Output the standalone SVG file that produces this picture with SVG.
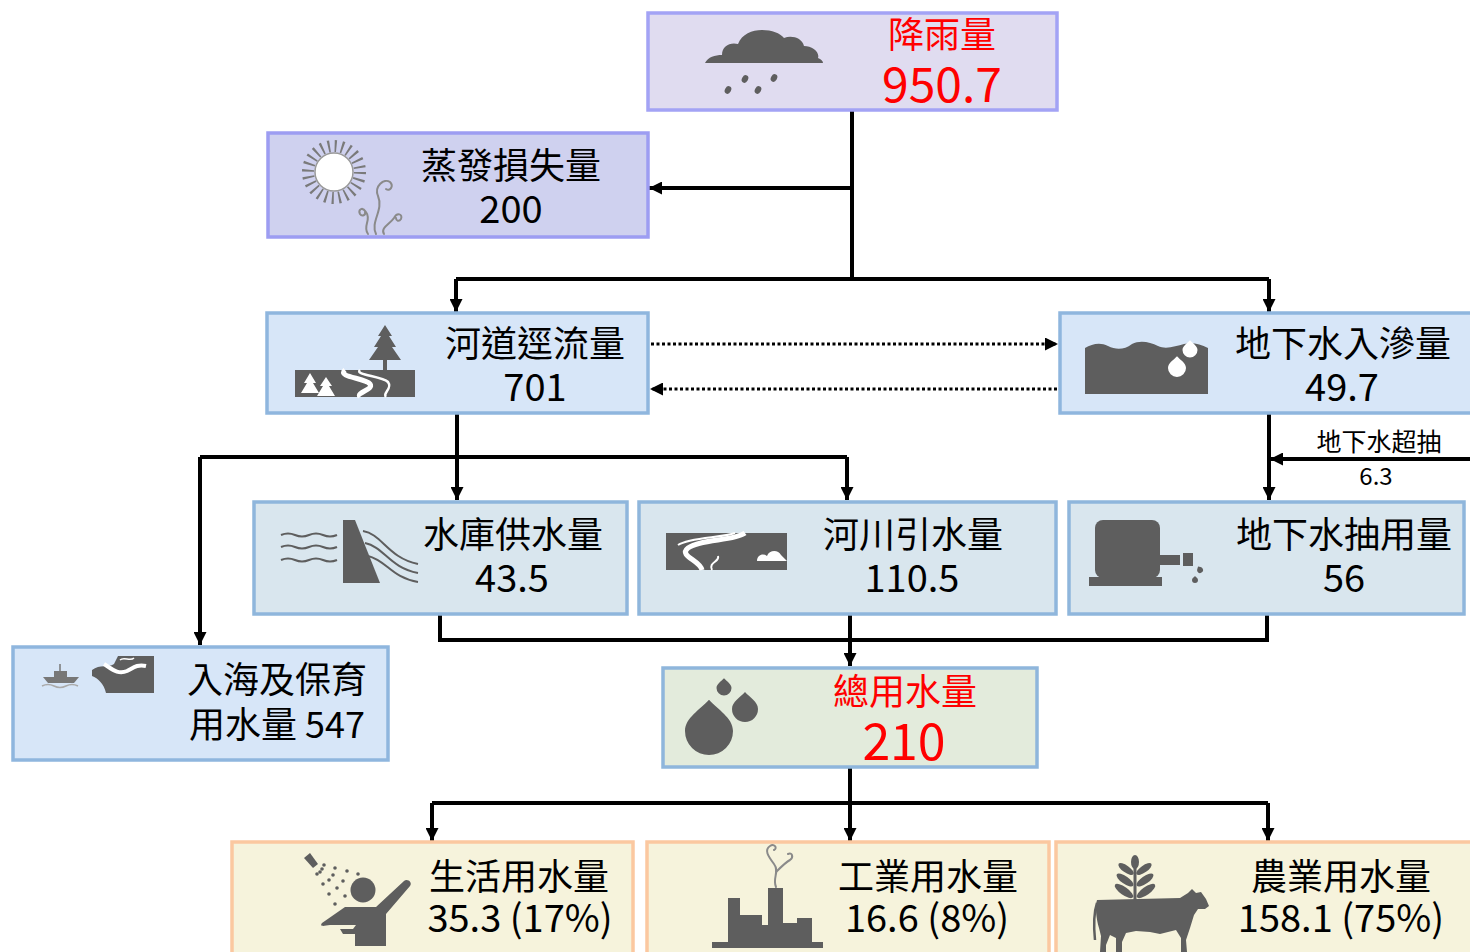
<svg xmlns="http://www.w3.org/2000/svg" xmlns:xlink="http://www.w3.org/1999/xlink" width="1470" height="952" viewBox="0 0 1470 952">
  <style>
    .box { stroke-width: 3.5; }
    .rain { fill: #e0dcf0; stroke: #a3a3f5; }
    .evap { fill: #cfd1ef; stroke: #9d9df2; }
    .flow { fill: #d7e6f8; stroke: #8fb6de; }
    .supply { fill: #d9e6ee; stroke: #8fb6dc; }
    .total { fill: #e3ebdc; stroke: #8fb6dc; }
    .use { fill: #f6f3dc; stroke: #fbc8a0; }
    .t { font-family: "Noto Sans CJK TC", "Noto Sans", sans-serif; text-anchor: middle; fill: #000; }
    .lbl { font-size: 36px; }
    .num { font-size: 38px; }
    .red { fill: #ff0000; }
    .icon { fill: #5e5e5e; }
    .wire { fill: none; stroke: #000; stroke-width: 4; }
    .dots { fill: none; stroke: #000; stroke-width: 3; stroke-dasharray: 3 2.5; }
    .curl { fill: none; stroke: #8a8a8a; stroke-width: 2; stroke-linecap: round; }
  </style>
  <defs>
    <marker id="arrow" viewBox="0 0 10 10" refX="10" refY="5" markerWidth="13" markerHeight="13" markerUnits="userSpaceOnUse" orient="auto">
      <path d="M0,0 L10,5 L0,10 Z" fill="#000"/>
    </marker>
    <path id="drop" d="M0,-1.3 C0.35,-0.9 1,-0.55 1,0 A1,1 0 0 1 -1,0 C-1,-0.55 -0.35,-0.9 0,-1.3 Z"/>
  </defs>

  <rect width="1470" height="952" fill="#fff"/>

  <!-- connectors -->
  <g id="connectors">
    <path class="wire" d="M852,111 V279"/>
    <path class="wire" d="M852,188 H649" marker-end="url(#arrow)"/>
    <path class="wire" d="M456,279 H1269"/>
    <path class="wire" d="M456,279 V312" marker-end="url(#arrow)"/>
    <path class="wire" d="M1269,279 V312" marker-end="url(#arrow)"/>
    <path class="dots" d="M651,344 H1058" marker-end="url(#arrow)"/>
    <path class="dots" d="M1057,389 H650" marker-end="url(#arrow)"/>
    <path class="wire" d="M457,413 V500" marker-end="url(#arrow)"/>
    <path class="wire" d="M200,457 H847"/>
    <path class="wire" d="M200,457 V645" marker-end="url(#arrow)"/>
    <path class="wire" d="M847,457 V500" marker-end="url(#arrow)"/>
    <path class="wire" d="M1269,413 V500" marker-end="url(#arrow)"/>
    <path class="wire" d="M1470,459 H1270" marker-end="url(#arrow)"/>
    <path class="wire" d="M440,615 V640 H1267 V615"/>
    <path class="wire" d="M850,615 V666" marker-end="url(#arrow)"/>
    <path class="wire" d="M850,767 V841" marker-end="url(#arrow)"/>
    <path class="wire" d="M432,803 H1268"/>
    <path class="wire" d="M432,803 V841" marker-end="url(#arrow)"/>
    <path class="wire" d="M1268,803 V841" marker-end="url(#arrow)"/>
    <text class="t" x="1379" y="451" font-size="25">地下水超抽</text>
    <text class="t" x="1376" y="485" font-size="24">6.3</text>
  </g>

  <!-- rainfall -->
  <g id="rainfall">
    <rect class="box rain" x="648" y="13" width="409" height="97"/>
    <path class="icon" d="M705,63 C708,57 715,55 722,55 C722,46 730,42 738,44 C742,34 752,30 762,30 C772,30 780,33 784,38 C792,35 802,38 804,46 C812,46 820,52 818,58 C821,59 823,61 823,63 Z"/>
    <g class="icon">
      <ellipse cx="728" cy="90" rx="3" ry="4" transform="rotate(30 728 90)"/>
      <ellipse cx="745" cy="79" rx="3" ry="4" transform="rotate(30 745 79)"/>
      <ellipse cx="758" cy="90" rx="3" ry="4" transform="rotate(30 758 90)"/>
      <ellipse cx="774" cy="78" rx="3" ry="4" transform="rotate(30 774 78)"/>
    </g>
    <text class="t lbl red" x="942" y="48">降雨量</text>
    <text class="t red" x="942" y="102" font-size="48">950.7</text>
  </g>

  <!-- evaporation -->
  <g id="evaporation">
    <rect class="box evap" x="268" y="133" width="380" height="104"/>
    <circle cx="334" cy="172" r="26" fill="none" stroke="#7a7a7a" stroke-width="12" stroke-dasharray="2 4.8"/>
    <circle cx="334" cy="172" r="19" fill="#fff" stroke="#9a9a9a" stroke-width="1.5"/>
    <path class="curl" d="M368,234 C362,226 372,220 366,212 C362,206 358,210 360,214 C362,217 366,215 365,212"/>
    <path class="curl" d="M376,234 C370,222 384,210 378,196 C374,186 384,178 390,182 C394,186 390,192 386,189"/>
    <path class="curl" d="M384,234 C380,228 390,224 394,218 C397,212 403,214 401,219 C399,222 396,221 396,218"/>
    <text class="t lbl" x="511" y="179">蒸發損失量</text>
    <text class="t num" x="511" y="223">200</text>
  </g>

  <!-- river runoff -->
  <g id="runoff">
    <rect class="box flow" x="267" y="313" width="381" height="100"/>
    <rect class="icon" x="295" y="370" width="120" height="27"/>
    <polygon class="icon" points="385,325 378,336 381,336 374,347 378,347 369,360 401,360 392,347 396,347 389,336 392,336"/>
    <rect class="icon" x="383" y="358" width="4" height="12"/>
    <path d="M345,370 C336,377 366,378 370,384 C374,390 356,392 360,397" fill="none" stroke="#fff" stroke-width="5"/>
    <path d="M360,370 C354,375 382,376 388,382 C393,389 382,393 386,397" fill="none" stroke="#fff" stroke-width="2.5"/>
    <polygon fill="#fff" points="310,373 304,383 307,383 301,393 319,393 313,383 316,383"/>
    <polygon fill="#fff" points="326,377 320,386 323,386 317,396 335,396 329,386 332,386"/>
    <text class="t lbl" x="535" y="357">河道逕流量</text>
    <text class="t num" x="535" y="401">701</text>
  </g>

  <!-- groundwater recharge -->
  <g id="recharge">
    <rect class="box flow" x="1060" y="313" width="414" height="100"/>
    <path class="icon" d="M1085,394 V348 C1092,344 1100,342 1108,346 C1116,350 1124,350 1132,344 C1140,340 1150,342 1158,346 C1166,350 1176,346 1184,344 C1192,342 1200,344 1208,348 V394 Z"/>
    <use href="#drop" xlink:href="#drop" fill="#fff" transform="translate(1190,350) scale(7.5)"/>
    <use href="#drop" xlink:href="#drop" fill="#fff" transform="translate(1177,368) scale(9)"/>
    <text class="t lbl" x="1343" y="357">地下水入滲量</text>
    <text class="t num" x="1342" y="401">49.7</text>
  </g>

  <!-- reservoir supply -->
  <g id="reservoir">
    <rect class="box supply" x="254" y="502" width="373" height="112"/>
    <g fill="none" stroke="#5e5e5e" stroke-width="2">
      <path d="M281,535 q7,-3 14,0 t14,0 t14,0 t14,0"/>
      <path d="M281,547 q7,-3 14,0 t14,0 t14,0 t14,0"/>
      <path d="M281,560 q7,-3 14,0 t14,0 t14,0 t14,0"/>
      <path d="M363,531 C382,534 388,558 418,564"/>
      <path d="M365,543 C384,547 390,568 418,573"/>
      <path d="M368,556 C386,560 392,578 418,582"/>
    </g>
    <polygon class="icon" points="343,520 355,520 380,583 343,583"/>
    <text class="t lbl" x="513" y="548">水庫供水量</text>
    <text class="t num" x="512" y="592">43.5</text>
  </g>

  <!-- river diversion -->
  <g id="diversion">
    <rect class="box supply" x="639" y="502" width="417" height="112"/>
    <rect class="icon" x="666" y="533" width="121" height="37"/>
    <path d="M745,533 C734,541 700,539 688,548 C678,556 700,560 702,570" fill="none" stroke="#fff" stroke-width="5"/>
    <path d="M735,533 C722,538 690,537 678,545" fill="none" stroke="#fff" stroke-width="2"/>
    <path d="M712,570 C708,562 720,562 718,556" fill="none" stroke="#fff" stroke-width="2"/>
    <path fill="#fff" d="M757,561 C757,555 763,553 767,556 C769,550 778,549 781,555 L787,561 Z"/>
    <text class="t lbl" x="913" y="548">河川引水量</text>
    <text class="t num" x="912" y="592">110.5</text>
  </g>

  <!-- groundwater pumping -->
  <g id="pumping">
    <rect class="box supply" x="1069" y="502" width="395" height="112"/>
    <rect class="icon" x="1095" y="520" width="65" height="58" rx="8"/>
    <rect class="icon" x="1089" y="577" width="73" height="9"/>
    <rect class="icon" x="1158" y="555" width="22" height="10"/>
    <rect class="icon" x="1183" y="553" width="10" height="13"/>
    <use href="#drop" xlink:href="#drop" class="icon" transform="translate(1200,570) rotate(-30) scale(3)"/>
    <use href="#drop" xlink:href="#drop" class="icon" transform="translate(1195,580) scale(3)"/>
    <text class="t lbl" x="1344" y="548">地下水抽用量</text>
    <text class="t num" x="1344" y="592">56</text>
  </g>

  <!-- outflow to sea and conservation -->
  <g id="outflow">
    <rect class="box flow" x="13" y="647" width="375" height="113"/>
    <path class="icon" d="M92,670 C100,664 108,668 114,664 L118,656 H154 V693 H106 C104,684 98,678 92,676 Z"/>
    <path d="M104,664 C112,669 118,675 127,671 C133,668 137,664 146,666" fill="none" stroke="#fff" stroke-width="4"/>
    <path d="M120,660 C124,656 130,662 134,658" fill="none" stroke="#fff" stroke-width="1.5"/>
    <path fill="#777" d="M43,677 H79 L74,683 H48 Z"/>
    <rect fill="#777" x="54" y="671" width="13" height="6"/>
    <path d="M60,671 V664" stroke="#777" stroke-width="1.5"/>
    <path d="M42,686 q6,-3 12,0 t12,0 t12,0" fill="none" stroke="#aaa" stroke-width="1.5"/>
    <text class="t lbl" x="277" y="693">入海及保育</text>
    <text class="t lbl" x="277" y="738">用水量 547</text>
  </g>

  <!-- total water use -->
  <g id="total">
    <rect class="box total" x="663" y="668" width="374" height="99"/>
    <use href="#drop" xlink:href="#drop" class="icon" transform="translate(709,731) scale(24)"/>
    <use href="#drop" xlink:href="#drop" class="icon" transform="translate(745,709) scale(13)"/>
    <use href="#drop" xlink:href="#drop" class="icon" transform="translate(724,688) scale(7.5)"/>
    <text class="t lbl red" x="905" y="705">總用水量</text>
    <text class="t red" x="904" y="760" font-size="50">210</text>
  </g>

  <!-- domestic use -->
  <g id="domestic">
    <rect class="box use" x="232" y="842" width="401" height="114"/>
    <polygon class="icon" points="304,858 310,853 318,864 313,868"/>
    <g class="icon">
      <circle cx="324" cy="865" r="1.8"/><circle cx="335" cy="868" r="1.8"/><circle cx="347" cy="871" r="1.8"/><circle cx="358" cy="874" r="1.8"/>
      <circle cx="322" cy="869" r="1.8"/><circle cx="333" cy="875" r="1.8"/><circle cx="343" cy="881" r="1.8"/>
      <circle cx="320" cy="872" r="1.8"/><circle cx="329" cy="880" r="1.8"/><circle cx="337" cy="888" r="1.8"/><circle cx="345" cy="896" r="1.8"/>
      <circle cx="317" cy="874" r="1.8"/><circle cx="323" cy="884" r="1.8"/><circle cx="329" cy="894" r="1.8"/><circle cx="335" cy="904" r="1.8"/>
      <circle cx="363" cy="890" r="12.5"/>
    </g>
    <path class="icon" d="M322,923 L345,907 H376 L404,881 C407,878 413,882 410,886 L386,914 V946 H355 V934 H343 L340,929 H353 L356,925 H330 C324,926 319,927 322,923 Z"/>
    <text class="t lbl" x="519" y="890">生活用水量</text>
    <text class="t num" x="520" y="932">35.3 (17%)</text>
  </g>

  <!-- industrial use -->
  <g id="industrial">
    <rect class="box use" x="647" y="842" width="402" height="114"/>
    <path class="icon" d="M712,942 H728 V898 H740 V915 H762 V925 H768 V888 H783 V923 H797 V918 H812 V942 H823 V948 H712 Z"/>
    <path class="curl" d="M776,887 C772,878 780,872 774,864 C768,856 764,850 770,846 C774,843 778,848 774,850"/>
    <path class="curl" d="M776,872 C782,866 786,862 790,860 C794,857 792,852 788,854"/>
    <text class="t lbl" x="928" y="890">工業用水量</text>
    <text class="t num" x="927" y="932">16.6 (8%)</text>
  </g>

  <!-- agricultural use -->
  <g id="agricultural">
    <rect class="box use" x="1056" y="842" width="418" height="114"/>
    <g class="icon">
      <rect x="1133.5" y="860" width="3" height="40"/>
      <ellipse cx="1135" cy="862" rx="4" ry="7"/>
      <ellipse cx="1126" cy="869" rx="9" ry="3.5" transform="rotate(35 1126 869)"/>
      <ellipse cx="1144" cy="869" rx="9" ry="3.5" transform="rotate(-35 1144 869)"/>
      <ellipse cx="1125" cy="880" rx="10" ry="3.8" transform="rotate(35 1125 880)"/>
      <ellipse cx="1145" cy="880" rx="10" ry="3.8" transform="rotate(-35 1145 880)"/>
      <ellipse cx="1124" cy="891" rx="11" ry="4" transform="rotate(35 1124 891)"/>
      <ellipse cx="1146" cy="891" rx="11" ry="4" transform="rotate(-35 1146 891)"/>
    </g>
    <path class="icon" d="M1097,900 L1180,898 L1188,893 L1192,889 L1196,893 L1201,892 L1206,899 L1209,906 L1205,909 L1198,909 L1194,915 L1190,928 L1186,940 L1187,952 H1181 L1181,938 L1176,930 L1168,932 L1160,934 L1150,932 L1136,931 L1126,933 L1122,942 L1122,952 H1116 L1116,938 L1110,935 L1106,945 L1106,952 H1100 L1101,936 L1099,928 C1096,918 1095,906 1097,900 Z"/>
    <path d="M1097,903 C1093,915 1094,930 1095,940" fill="none" stroke="#5e5e5e" stroke-width="2.5"/>
    <text class="t lbl" x="1341" y="890">農業用水量</text>
    <text class="t num" x="1341" y="932">158.1 (75%)</text>
  </g>
</svg>
